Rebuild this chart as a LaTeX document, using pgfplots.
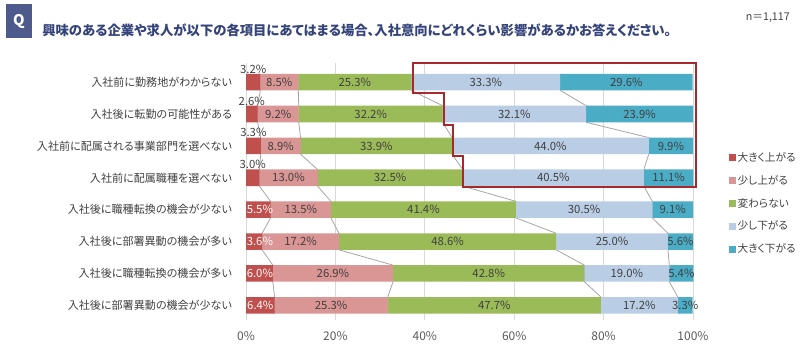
\documentclass[border=0pt]{standalone}
\usepackage{pgfplots}
\pgfplotsset{compat=1.18}
\usepackage{pgfplotstable}
\usepackage{fontspec}
\setmainfont{Noto Sans CJK JP}[RawFeature=+palt]
\definecolor{c1}{HTML}{C0504D}
\definecolor{c2}{HTML}{D99694}
\definecolor{c3}{HTML}{9BBB59}
\definecolor{c4}{HTML}{B9CDE5}
\definecolor{c5}{HTML}{4BACC6}
\definecolor{labc}{HTML}{404040}
\definecolor{tickc}{HTML}{595959}
\definecolor{gridc}{HTML}{D9D9D9}
\definecolor{serc}{HTML}{A6A6A6}
\definecolor{outc}{HTML}{A8282B}
\definecolor{titc}{HTML}{34437A}
\definecolor{qbox}{HTML}{4E5A8C}

\pgfplotstableread{
row s1 s2 s3 s4 s5
1 3.2 8.5 25.3 33.3 29.6
2 2.6 9.2 32.2 32.1 23.9
3 3.3 8.9 33.9 44.0 9.9
4 3.0 13.0 32.5 40.5 11.1
5 5.5 13.5 41.4 30.5 9.1
6 3.6 17.2 48.6 25.0 5.6
7 6.0 26.9 42.8 19.0 5.4
8 6.4 25.3 47.7 17.2 3.3
}\data

\pgfplotstableread{
y c1 c2 c3 c4
0.74 3.2 11.7 37.0 70.3
1.26 3.2 11.7 37.0 70.3
1.74 2.6 11.8 44.0 76.1
2.26 2.6 11.8 44.0 76.1
2.74 3.3 12.2 46.1 90.1
3.26 3.3 12.2 46.1 90.1
3.74 3.0 16.0 48.5 89.0
4.26 3.0 16.0 48.5 89.0
4.74 5.5 19.0 60.4 90.9
5.26 5.5 19.0 60.4 90.9
5.74 3.6 20.8 69.4 94.4
6.26 3.6 20.8 69.4 94.4
6.74 6.0 32.9 75.7 94.7
7.26 6.0 32.9 75.7 94.7
7.74 6.4 31.7 79.4 96.6
8.26 6.4 31.7 79.4 96.6
}\lines

\newcommand{\pct}{\pgfmathprintnumber[fixed,fixed zerofill,precision=1,assume math mode=true]{\pgfplotspointmeta}\%}

\pgfplotsset{
  base/.style={width=335.25pt,height=192.75pt,scale only axis,
    at={(184.5pt,21.75pt)},anchor=south west,
    xmin=0,xmax=100,ymin=0.4,ymax=8.46,y dir=reverse,clip=false},
  lab/.style={draw=none,mark=none,nodes near coords={\pct},
    every node near coord/.style={anchor=center,inner sep=0pt,
      font=\fontsize{8.5pt}{10pt}\selectfont,text=labc}},
  sqleg/.style={legend image code/.code={\fill[##1] (0pt,-2.6pt) rectangle (5.25pt,2.65pt);}},
}

\begin{document}
\begin{tikzpicture}
\useasboundingbox (0,0) rectangle (600pt,261.75pt);

% header
\fill[qbox] (4.5pt,258.75pt) rectangle (24pt,233.25pt);
\node[text=white,font=\fontsize{11pt}{12pt}\selectfont\bfseries] at (14.25pt,246pt) {Q};
\node[anchor=west,inner sep=0pt,text=titc,font=\fontsize{10pt}{12pt}\selectfont\bfseries] at (31.5pt,239.25pt)
  {興味のある企業や求人が以下の各項目にあてはまる場合、入社意向にどれくらい影響があるかお答えください。};
\node[anchor=east,inner sep=0pt,text=labc,font=\fontsize{8pt}{9pt}\selectfont] at (592.5pt,248.25pt) {n＝1,117};

% axis A: grid, ticks, series lines
\begin{axis}[base,
  axis line style={draw=none},
  xtick={0,20,40,60,80,100},
  xticklabels={0\%,20\%,40\%,60\%,80\%,100\%},
  ytick={1,2,3,4,5,6,7,8},
  yticklabels={入社前に勤務地がわからない,入社後に転勤の可能性がある,入社前に配属される事業部門を選べない,入社前に配属職種を選べない,入社後に職種転換の機会が少ない,入社後に部署異動の機会が多い,入社後に職種転換の機会が多い,入社後に部署異動の機会が少ない},
  xmajorgrids,
  grid style={draw=gridc,line width=0.6pt},
  major tick length=0pt,
  xticklabel style={font=\fontsize{9pt}{10pt}\selectfont,text=tickc,yshift=-5pt},
  yticklabel style={font=\fontsize{8.3pt}{10pt}\selectfont,text=labc,xshift=-7pt},
]
\addplot[serc,line width=0.6pt,mark=none] table[x=c1,y=y]{\lines};
\addplot[serc,line width=0.6pt,mark=none] table[x=c2,y=y]{\lines};
\addplot[serc,line width=0.6pt,mark=none] table[x=c3,y=y]{\lines};
\addplot[serc,line width=0.6pt,mark=none] table[x=c4,y=y]{\lines};
\end{axis}

% axis B: stacked bars
\begin{axis}[base,hide axis,xbar stacked,bar width=0.52]
\addplot[fill=c1,draw=none] table[x=s1,y=row]{\data};
\addplot[fill=c2,draw=none] table[x=s2,y=row]{\data};
\addplot[fill=c3,draw=none] table[x=s3,y=row]{\data};
\addplot[fill=c4,draw=none] table[x=s4,y=row]{\data};
\addplot[fill=c5,draw=none] table[x=s5,y=row]{\data};
\end{axis}

% axis C: labels, outline, legend
\begin{axis}[base,hide axis,
  legend style={at={(1.0805,0.6615)},anchor=north west,draw=none,fill=none,
    inner sep=0pt,row sep=5.6pt,font=\fontsize{8pt}{9pt}\selectfont,
    nodes={inner sep=1pt,text height=7.5pt,text depth=2pt,text=labc}},
  legend cell align=left]
\addlegendimage{sqleg,fill=c1,draw=none}
\addlegendentry{大きく上がる}
\addlegendimage{sqleg,fill=c2,draw=none}
\addlegendentry{少し上がる}
\addlegendimage{sqleg,fill=c3,draw=none}
\addlegendentry{変わらない}
\addlegendimage{sqleg,fill=c4,draw=none}
\addlegendentry{少し下がる}
\addlegendimage{sqleg,fill=c5,draw=none}
\addlegendentry{大きく下がる}

\addplot[lab,point meta=\thisrow{s1},restrict y to domain=0:4.5]
  table[x expr=\thisrow{s1}/2,y expr=\thisrow{row}-0.41]{\data};
\addplot[lab,point meta=\thisrow{s1},restrict y to domain=4.5:9,
  every node near coord/.append style={text=white}]
  table[x expr={max(\thisrow{s1}/2,3.1)},y=row]{\data};
\addplot[lab,point meta=\thisrow{s2}]
  table[x expr=\thisrow{s1}+\thisrow{s2}/2,y=row]{\data};
\addplot[lab,point meta=\thisrow{s3}]
  table[x expr=\thisrow{s1}+\thisrow{s2}+\thisrow{s3}/2,y=row]{\data};
\addplot[lab,point meta=\thisrow{s4}]
  table[x expr=\thisrow{s1}+\thisrow{s2}+\thisrow{s3}+\thisrow{s4}/2,y=row]{\data};
\addplot[lab,point meta=\thisrow{s5}]
  table[x expr=\thisrow{s1}+\thisrow{s2}+\thisrow{s3}+\thisrow{s4}+\thisrow{s5}/2,y=row]{\data};

\addplot[draw=outc,line width=1.5pt,mark=none,line join=miter] coordinates {
 (70,0.385) (100.7,0.385) (100.7,4.28) (48.5,4.28) (48.5,3.31) (46.4,3.31)
 (46.4,2.34) (44.3,2.34) (44.3,1.33) (37.3,1.33) (37.3,0.385) (70,0.385)};
\end{axis}
\end{tikzpicture}
\end{document}
